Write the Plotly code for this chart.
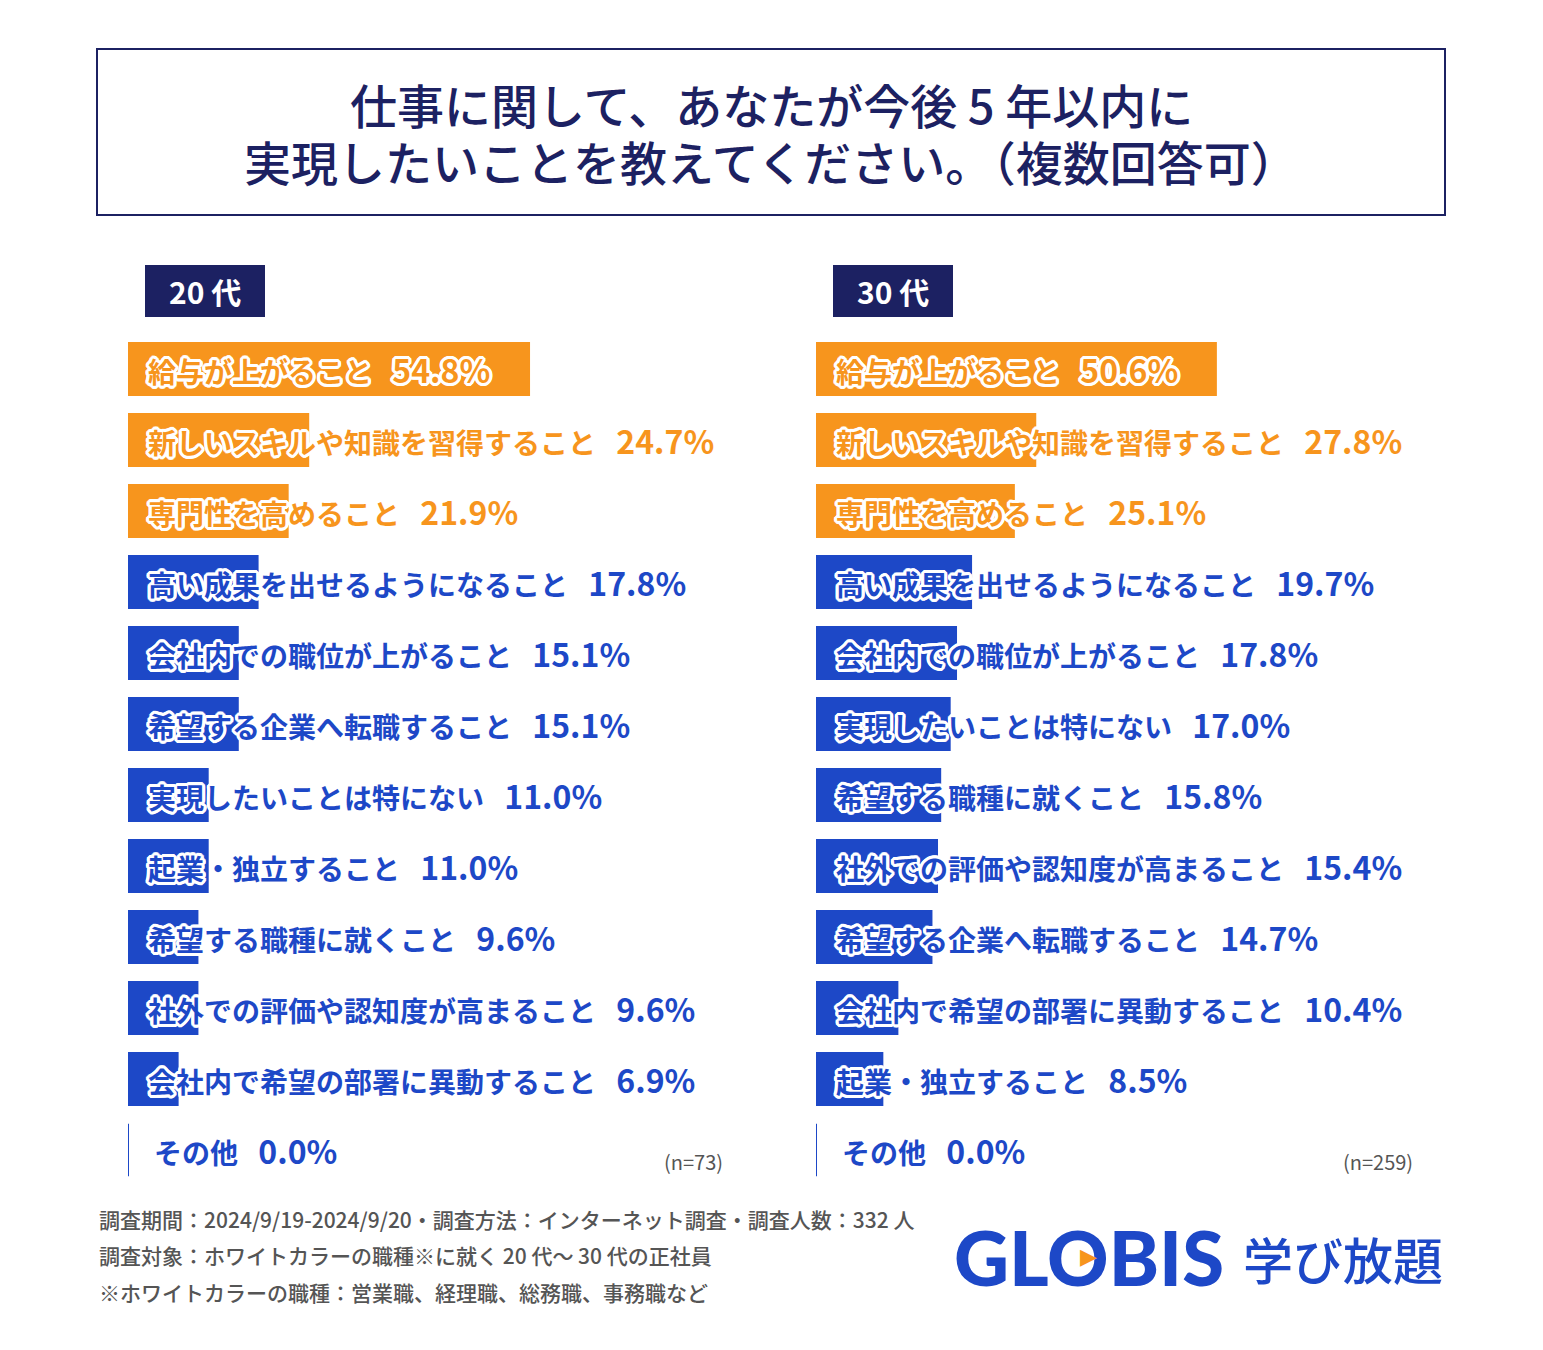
import plotly.graph_objects as go
from plotly.subplots import make_subplots

# data
labels_20 = ["給与が上がること", "新しいスキルや知識を習得すること", "専門性を高めること",
             "高い成果を出せるようになること", "会社内での職位が上がること",
             "希望する企業へ転職すること", "実現したいことは特にない", "起業・独立すること",
             "希望する職種に就くこと", "社外での評価や認知度が高まること",
             "会社内で希望の部署に異動すること", "その他"]
values_20 = [54.8, 24.7, 21.9, 17.8, 15.1, 15.1, 11.0, 11.0, 9.6, 9.6, 6.9, 0.0]

labels_30 = ["給与が上がること", "新しいスキルや知識を習得すること", "専門性を高めること",
             "高い成果を出せるようになること", "会社内での職位が上がること",
             "実現したいことは特にない", "希望する職種に就くこと",
             "社外での評価や認知度が高まること", "希望する企業へ転職すること",
             "会社内で希望の部署に異動すること", "起業・独立すること", "その他"]
values_30 = [50.6, 27.8, 25.1, 19.7, 17.8, 17.0, 15.8, 15.4, 14.7, 10.4, 8.5, 0.0]

panel_names = ["20 代", "30 代"]
n_labels = ["(n=73)", "(n=259)"]

title_lines = ["仕事に関して、あなたが今後 5 年以内に",
               "実現したいことを教えてください。（複数回答可）"]
notes = ["調査期間：2024/9/19-2024/9/20・調査方法：インターネット調査・調査人数：332 人",
         "調査対象：ホワイトカラーの職種※に就く 20 代～ 30 代の正社員",
         "※ホワイトカラーの職種：営業職、経理職、総務職、事務職など"]

# styles
OFF = 8  # page margin around the plot div
W, H = 1543 - 2 * OFF, 1350 - 2 * OFF
ORANGE = "#F7951D"
BLUE = "#1D48C7"
NAVY = "#1C2162"
GRAY = "#555555"
JP = "Noto Sans CJK JP"

def px(x):
    return (x - OFF) / W

def py(y):
    return 1 - (y - OFF) / H

# white outline around label text
offs = [(3, 0), (-3, 0), (0, 3), (0, -3), (2, 2), (-2, -2), (2, -2), (-2, 2),
        (3, 1), (3, -1), (-3, 1), (-3, -1), (1, 3), (-1, 3), (1, -3), (-1, -3)]
outline = ", ".join(f"{dx}px {dy}px 0 #fff" for dx, dy in offs)

fig = make_subplots(rows=1, cols=2)

panels = [(labels_20, values_20, 128, 745, 84.1),
          (labels_30, values_30, 816, 1430, 77.5)]

for k, (labs, vals, x0, x1, rng) in enumerate(panels):
    cols = [ORANGE if i < 3 else BLUE for i in range(len(vals))]
    fig.add_trace(go.Bar(x=vals, y=labs, orientation="h", marker_color=cols,
                         marker_line_width=0, hoverinfo="skip", showlegend=False),
                  row=1, col=k + 1)
    xa = "xaxis" if k == 0 else "xaxis2"
    ya = "yaxis" if k == 0 else "yaxis2"
    fig.layout[xa].update(domain=[px(x0), px(x1)], range=[0, rng], visible=False)
    fig.layout[ya].update(domain=[py(1185.5), py(333.5)], autorange="reversed",
                          visible=False)
    xr = "x" if k == 0 else "x2"
    yr = "y" if k == 0 else "y2"
    for i, (lab, v) in enumerate(zip(labs, vals)):
        fig.add_annotation(x=0, y=lab, xref=xr, yref=yr, xanchor="left",
                           yanchor="middle", xshift=18 if v > 0 else 24,
                           showarrow=False,
                           text=f"{lab}\u2002 <span style='font-size:32px'>{v:.1f}%</span>",
                           font=dict(family=JP, size=28, color=cols[i], weight=700,
                                     shadow=outline))
        if v == 0:
            fig.add_shape(type="line", xref=xr, yref=yr, x0=0, x1=0,
                          y0=i - 0.37, y1=i + 0.37, line=dict(color=BLUE, width=2))
    # panel label box
    bx = x0 + 17
    fig.add_shape(type="rect", xref="paper", yref="paper", x0=px(bx), x1=px(bx + 120),
                  y0=py(317), y1=py(265), fillcolor=NAVY, line_width=0)
    fig.add_annotation(x=px(bx + 60), y=py(291), xref="paper", yref="paper",
                       xanchor="center", yanchor="middle",
                       text=panel_names[k], showarrow=False,
                       font=dict(family=JP, size=30, color="white", weight=700))
    fig.add_annotation(x=px(x1 - 20 if k == 0 else x1 - 15), y=py(1161), xref="paper",
                       yref="paper", xanchor="right", yanchor="middle",
                       text=n_labels[k], showarrow=False,
                       font=dict(family=JP, size=20, color=GRAY))

# title box
fig.add_shape(type="rect", xref="paper", yref="paper", x0=px(97), x1=px(1445),
              y0=py(215), y1=py(49), line=dict(color=NAVY, width=2))
for line, yy in zip(title_lines, [104, 161]):
    fig.add_annotation(x=px(771), y=py(yy), xref="paper", yref="paper", text=line,
                       xanchor="center", yanchor="middle", showarrow=False,
                       font=dict(family=JP, size=47, color=NAVY, weight=500))

# footnotes
for line, yy in zip(notes, [1219, 1255, 1292]):
    fig.add_annotation(x=px(97), y=py(yy), xref="paper", yref="paper", xanchor="left",
                       yanchor="middle", text=line, showarrow=False,
                       font=dict(family=JP, size=21, color=GRAY, weight=500))

# logo
fig.add_annotation(x=px(952), y=py(1256), xref="paper", yref="paper", xanchor="left",
                   yanchor="middle", text="GLOBIS", showarrow=False,
                   font=dict(family="Lato", size=76, color=BLUE, weight=900))
fig.add_annotation(x=px(1088), y=py(1256), xref="paper", yref="paper",
                   xanchor="center", yanchor="middle", text="▶", showarrow=False,
                   font=dict(family="DejaVu Sans", size=22, color=ORANGE))
fig.add_annotation(x=px(1445), y=py(1258), xref="paper", yref="paper", xanchor="right",
                   yanchor="middle", text="学び放題", showarrow=False,
                   font=dict(family=JP, size=50, color=BLUE, weight=500))

fig.update_layout(width=W, height=H, margin=dict(l=0, r=0, t=0, b=0),
                  paper_bgcolor="white", plot_bgcolor="white", bargap=0.24)

fig.write_html("out.html")
